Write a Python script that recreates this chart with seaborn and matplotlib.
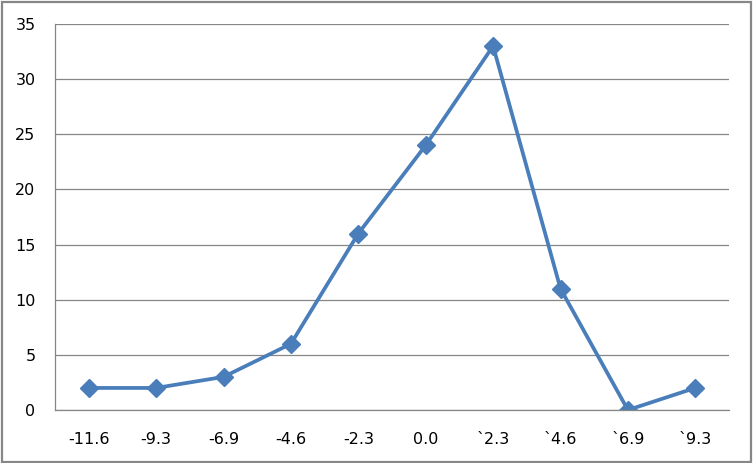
import matplotlib
matplotlib.use("Agg")
import matplotlib.pyplot as plt
import seaborn as sns
import pandas as pd
import numpy as np
from matplotlib.patches import Rectangle
from matplotlib.ticker import FixedLocator

categories = ["-11.6", "-9.3", "-6.9", "-4.6", "-2.3", "0.0", "`2.3", "`4.6", "`6.9", "`9.3"]
values = [2, 2, 3, 6, 16, 24, 33, 11, 0, 2]
y_ticks = [0, 5, 10, 15, 20, 25, 30, 35]

sns.set_style("white")
plt.rcParams['font.family'] = ['DejaVu Sans']

W, H = 753, 463
fig = plt.figure(figsize=(W / 100, H / 100), dpi=100)
ax = fig.add_axes([55 / W, (H - 410) / H, 674 / W, 386 / H])

df = pd.DataFrame({"pos": np.arange(len(categories)), "val": values})
line_color = "#4A7EBB"
sns.lineplot(data=df, x="pos", y="val", ax=ax, color=line_color, linewidth=2.7,
             marker="D", markersize=9, markeredgewidth=1.0,
             markeredgecolor=line_color, markerfacecolor=line_color)

grey = "#868686"
ax.set_xlim(-0.5, len(categories) - 0.5)
ax.set_ylim(0, 35)
ax.set_yticks(y_ticks)
ax.yaxis.grid(True, color=grey, linewidth=0.9)
ax.set_axisbelow(True)

ax.set_xticks(np.arange(len(categories)))
ax.set_xticklabels(categories)
ax.xaxis.set_minor_locator(FixedLocator(np.arange(-0.5, len(categories), 1.0)))
ax.tick_params(axis="x", which="major", length=0, pad=16, labelsize=11.5, colors="black")
ax.tick_params(axis="x", which="minor", length=6, width=0.9, color=grey, direction="out")
ax.tick_params(axis="y", which="major", length=6, width=0.9, color=grey, direction="out",
               pad=8, labelsize=11.5, labelcolor="black")
ax.set_xlabel("")
ax.set_ylabel("")

for s in ["top", "right"]:
    ax.spines[s].set_visible(False)
for s in ["left", "bottom"]:
    ax.spines[s].set_color(grey)
    ax.spines[s].set_linewidth(0.9)

fig.patches.append(Rectangle((1.5 / W, 1.5 / H), (W - 3.5) / W, (H - 3.5) / H,
                             transform=fig.transFigure, fill=False,
                             edgecolor="#878787", linewidth=1.6))

fig.savefig("out.png", dpi=100)
